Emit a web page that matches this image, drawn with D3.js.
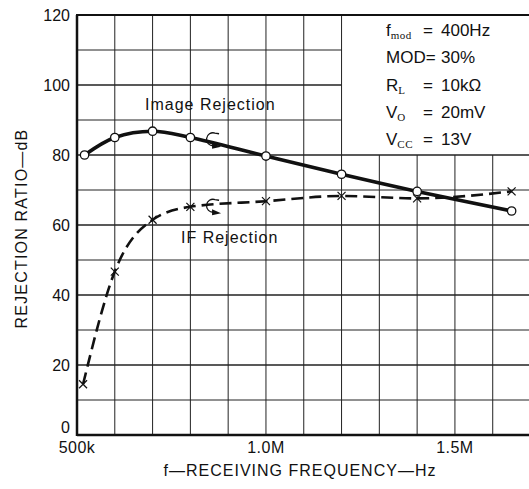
<!DOCTYPE html>
<html lang="en">
<head>
  <meta charset="UTF-8">
  <title>rejection ratio</title>
  <style>
    * { padding: 0; margin: 0; }
    body { background: #fff; }
    text { font-family: "Liberation Sans", Arial, sans-serif; fill: #111; }
  </style>
</head>
<body>
  <script src="https://d3js.org/d3.v7.min.js"></script>
  <script>
    const width = 529;
    const height = 489;
    const margin = { top: 15, right: 0, bottom: 54, left: 77 };

    // image rejection (circles, solid)
    const imageFreq = [520e3, 600e3, 700e3, 800e3, 1.0e6, 1.2e6, 1.4e6, 1.65e6];
    const imageDb = [80, 85, 86.8, 85, 79.7, 74.5, 69.6, 64];
    // IF rejection (crosses, dashed)
    const ifFreq = [516e3, 600e3, 700e3, 800e3, 1.0e6, 1.2e6, 1.4e6, 1.65e6];
    const ifDb = [14.5, 46.7, 61.5, 65.2, 66.8, 68.3, 67.6, 69.6];

    const xTicks = [500e3, 1.0e6, 1.5e6];
    const xTickLabels = ['500k', '1.0M', '1.5M'];
    const yTicks = [0, 20, 40, 60, 80, 100, 120];

    const conditions = [
      { name: 'f', sub: 'mod', value: '400Hz' },
      { name: 'MOD', sub: '', value: '30%' },
      { name: 'R', sub: 'L', value: '10kΩ' },
      { name: 'V', sub: 'O', value: '20mV' },
      { name: 'V', sub: 'CC', value: '13V' }
    ];

    const x = d3.scaleLinear()
      .domain([500e3, 1.696e6])
      .range([margin.left, width - margin.right]);
    const y = d3.scaleLinear()
      .domain([0, 120])
      .range([height - margin.bottom, margin.top]);

    const svg = d3.select('body')
      .append('svg')
      .attr('width', width)
      .attr('height', height);

    // legend box occupies top right corner
    const boxLeft = x(1.2e6);
    const boxBottom = y(80);

    // grid
    const g = svg.append('g').attr('stroke', '#222').attr('stroke-width', 1);
    d3.range(600e3, 1.7e6, 100e3).forEach(f => {
      const top = f > 1.2e6 ? boxBottom : margin.top;
      g.append('line')
        .attr('x1', x(f)).attr('x2', x(f))
        .attr('y1', top).attr('y2', y(0));
    });
    d3.range(10, 120, 10).forEach(v => {
      const right = v > 80 ? boxLeft : width;
      g.append('line')
        .attr('x1', x(500e3)).attr('x2', right)
        .attr('y1', y(v)).attr('y2', y(v))
        .attr('stroke-width', v % 20 === 0 ? 1.3 : 1);
    });
    // frame lines
    svg.append('line')
      .attr('x1', x(500e3) - 1).attr('x2', width)
      .attr('y1', y(120)).attr('y2', y(120))
      .attr('stroke', '#111').attr('stroke-width', 2);
    svg.append('line')
      .attr('x1', x(500e3)).attr('x2', x(500e3))
      .attr('y1', y(120)).attr('y2', y(0) + 1)
      .attr('stroke', '#111').attr('stroke-width', 2.5);
    svg.append('line')
      .attr('x1', x(500e3)).attr('x2', width)
      .attr('y1', y(0)).attr('y2', y(0))
      .attr('stroke', '#111').attr('stroke-width', 2.5);

    // axes labels
    svg.selectAll('.ytick')
      .data(yTicks)
      .enter().append('text')
      .attr('x', x(500e3) - 7)
      .attr('y', d => d === 0 ? y(d) - 2 : y(d) + 6)
      .attr('text-anchor', 'end')
      .attr('font-size', 16)
      .text(d => d);

    svg.selectAll('.xtick')
      .data(xTicks)
      .enter().append('text')
      .attr('x', d => x(d))
      .attr('y', y(0) + 18)
      .attr('text-anchor', 'middle')
      .attr('font-size', 16)
      .attr('letter-spacing', 0.5)
      .text((d, i) => xTickLabels[i]);

    svg.append('text')
      .attr('x', 300)
      .attr('y', 476)
      .attr('text-anchor', 'middle')
      .attr('font-size', 16)
      .attr('letter-spacing', 1)
      .text('f—RECEIVING FREQUENCY—Hz');

    svg.append('text')
      .attr('transform', `translate(27,${y(59)}) rotate(-90)`)
      .attr('text-anchor', 'middle')
      .attr('font-size', 16)
      .attr('letter-spacing', 1.2)
      .text('REJECTION RATIO—dB');

    // curves
    const imagePts = imageFreq.map((f, i) => [f, imageDb[i]]);
    const ifPts = ifFreq.map((f, i) => [f, ifDb[i]]);

    const imageLine = d3.line()
      .x(d => x(d[0])).y(d => y(d[1]))
      .curve(d3.curveCatmullRom.alpha(0.5));
    const ifLine = d3.line()
      .x(d => x(d[0])).y(d => y(d[1]))
      .curve(d3.curveMonotoneX);

    svg.append('path')
      .attr('d', ifLine(ifPts))
      .attr('fill', 'none')
      .attr('stroke', '#111')
      .attr('stroke-width', 2.6)
      .attr('stroke-dasharray', '12,6');

    svg.append('path')
      .attr('d', imageLine(imagePts))
      .attr('fill', 'none')
      .attr('stroke', '#111')
      .attr('stroke-width', 3.6);

    // markers
    svg.selectAll('.cross')
      .data(ifPts)
      .enter().append('path')
      .attr('d', d => {
        const cx = x(d[0]), cy = y(d[1]), r = 4;
        return `M${cx - r},${cy - r}L${cx + r},${cy + r}M${cx - r},${cy + r}L${cx + r},${cy - r}`;
      })
      .attr('stroke', '#111')
      .attr('stroke-width', 1.2)
      .attr('fill', 'none');

    svg.selectAll('.dot')
      .data(imagePts)
      .enter().append('circle')
      .attr('cx', d => x(d[0]))
      .attr('cy', d => y(d[1]))
      .attr('r', 4.2)
      .attr('fill', '#fff')
      .attr('stroke', '#111')
      .attr('stroke-width', 1.3);

    // series labels
    svg.append('text')
      .attr('x', 145).attr('y', y(93))
      .attr('font-size', 16)
      .attr('letter-spacing', 1)
      .text('Image Rejection');
    svg.append('text')
      .attr('x', 181).attr('y', y(55))
      .attr('font-size', 16)
      .attr('letter-spacing', 1)
      .text('IF Rejection');

    // little axis pointer symbols
    const pointer = (cx, cy) => {
      const r = 6.5;
      const p = d3.path();
      p.moveTo(cx + 6, cy - r + 1);
      p.arc(cx, cy, r, -Math.PI / 2 + 0.3, Math.PI / 2 - 0.1, true);
      svg.append('path')
        .attr('d', p.toString())
        .attr('fill', 'none')
        .attr('stroke', '#111')
        .attr('stroke-width', 1.3);
      svg.append('path')
        .attr('d', `M${cx - 1},${cy + r - 3}L${cx + 8},${cy + r + 1}L${cx - 1},${cy + r + 3}Z`)
        .attr('fill', '#111');
    };
    pointer(x(860e3), y(84.5));
    pointer(x(860e3), y(65.5));

    // conditions box
    const cond = svg.append('g');
    conditions.forEach((c, i) => {
      const by = 36 + i * 27.3;
      const t = cond.append('text')
        .attr('x', 386).attr('y', by)
        .attr('font-size', 17);
      t.append('tspan').text(c.name);
      if (c.sub) {
        t.append('tspan')
          .attr('dy', 3)
          .attr('font-size', 11)
          .attr('font-family', '"Liberation Serif", serif')
          .attr('letter-spacing', 0.5)
          .text(c.sub);
        cond.append('text')
          .attr('x', 423).attr('y', by)
          .attr('font-size', 17)
          .text('=');
      } else {
        t.append('tspan').text('=');
      }
      cond.append('text')
        .attr('x', 441).attr('y', by)
        .attr('font-size', 17)
        .text(c.value);
    });
  </script>
</body>
</html>
